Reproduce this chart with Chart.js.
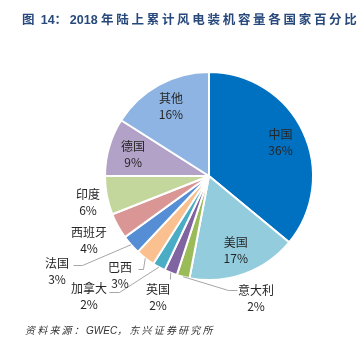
<!DOCTYPE html>
<html>
<head>
<meta charset="utf-8">
<script src="https://cdn.jsdelivr.net/npm/chart.js@4.4.1/dist/chart.umd.min.js"></script>
<style>
  html, body { margin: 0; padding: 0; background: #fff; }
  #wrap { position: relative; width: 357px; height: 339px; overflow: hidden; }
  #grafico { position: absolute; left: 0; top: 0; }
  .titulo {
    position: absolute; left: 22px; top: 14px; white-space: nowrap;
    font: bold 12.5px "Liberation Sans", "Noto Sans CJK SC", sans-serif; line-height: 12px;
    color: #27497c;
  }
  .titulo .cjk { letter-spacing: 2.7px; }
  .fonte {
    position: absolute; left: 25px; top: 326px; white-space: nowrap;
    font: italic 10px "Liberation Sans", "Noto Sans CJK SC", sans-serif; line-height: 10px;
    color: #333;
  }
  .fonte .cjk { letter-spacing: 2.2px; }
</style>
</head>
<body>
<div id="wrap">
  <canvas id="grafico" width="357" height="339"></canvas>
  <div class="titulo"><span class="cjk">图</span> 14<span class="cjk">：</span>2018 <span class="cjk">年陆上累计风电装机容量各国家百分比</span></div>
  <div class="fonte"><span class="cjk">资料来源：</span>GWEC<span class="cjk">，东兴证券研究所</span></div>
</div>
<script>
const paises = ['中国', '美国', '意大利', '英国', '加拿大', '巴西', '法国', '西班牙', '印度', '德国', '其他'];
const percentuais = [36, 17, 2, 2, 2, 3, 3, 4, 6, 9, 16];
const cores = ['#0070c0', '#93cddd', '#9bbb59', '#8064a2', '#4bacc6', '#fac090',
               '#558ed5', '#d99694', '#c3d69b', '#b3a2c7', '#8eb4e3'];

// rótulos fora da pizza: posição do texto e pontos da linha guia (até a borda da fatia)
const rotulosExternos = {
    '印度':   { x: 88,  y: 202 },
    '西班牙': { x: 89,  y: 240 },
    '法国':   { x: 57,  y: 271, guia: [[73, 265], [82, 265]] },
    '巴西':   { x: 120, y: 275, guia: [[138, 269], [143, 269]] },
    '加拿大': { x: 89,  y: 296, guia: [[109, 292], [119, 292]] },
    '英国':   { x: 158, y: 297, guia: [[170, 279]] },
    '意大利': { x: 256, y: 298, guia: [[237, 290], [228, 290]] }
};

const pluginRotulos = {
    id: 'rotulos',
    afterDatasetsDraw(chart) {
        const ctx = chart.ctx;
        const arcos = chart.getDatasetMeta(0).data;
        ctx.save();
        arcos.forEach((arco, i) => {
            const nome = paises[i];
            const meio = (arco.startAngle + arco.endAngle) / 2;
            const ext = rotulosExternos[nome];
            let x, y;
            if (ext) {
                x = ext.x; y = ext.y;
                if (ext.guia) {
                    ctx.strokeStyle = '#a6a6a6';
                    ctx.lineWidth = 1;
                    ctx.beginPath();
                    ext.guia.forEach((p, k) => k === 0 ? ctx.moveTo(p[0] + 0.5, p[1] + 0.5) : ctx.lineTo(p[0] + 0.5, p[1] + 0.5));
                    ctx.lineTo(arco.x + Math.cos(meio) * arco.outerRadius, arco.y + Math.sin(meio) * arco.outerRadius);
                    ctx.stroke();
                }
            } else {
                const r = arco.outerRadius * 0.76;
                x = arco.x + Math.cos(meio) * r;
                y = arco.y + Math.sin(meio) * r;
            }
            ctx.fillStyle = '#262626';
            ctx.textAlign = 'center';
            ctx.textBaseline = 'middle';
            ctx.font = '12px "Noto Sans CJK SC", sans-serif';
            ctx.fillText(nome, x, y - 8);
            ctx.fillText(percentuais[i] + '%', x, y + 8);
        });
        ctx.restore();
    }
};

new Chart(document.getElementById('grafico'), {
    type: 'pie',
    data: {
        labels: paises,
        datasets: [{
            data: percentuais,
            backgroundColor: cores,
            borderColor: '#ffffff',
            borderWidth: 2
        }]
    },
    options: {
        responsive: false,
        animation: false,
        layout: { padding: { left: 104, right: 43, top: 71, bottom: 58 } },
        plugins: {
            legend: { display: false },
            tooltip: { enabled: false }
        }
    },
    plugins: [pluginRotulos]
});
</script>
</body>
</html>
